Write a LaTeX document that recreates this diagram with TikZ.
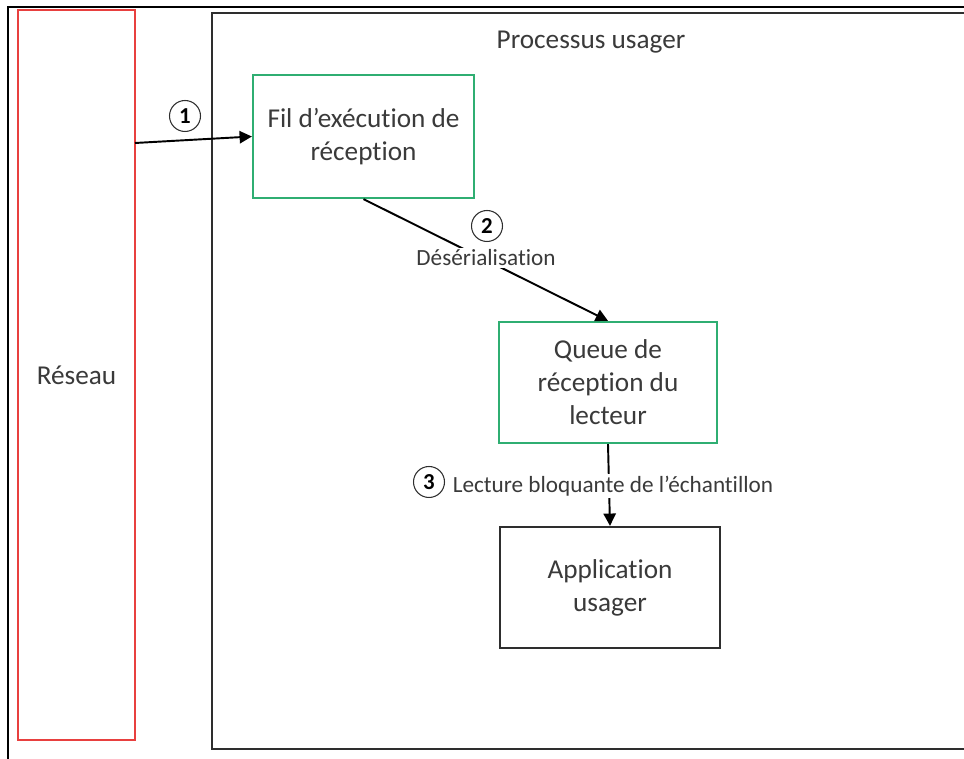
\documentclass[tikz,border=0pt]{standalone}
\usepackage{fontspec}
\setmainfont{Carlito}[Ligatures=NoCommon]
\usepackage{tikz}
\usetikzlibrary{arrows.meta}
\definecolor{vert}{HTML}{2FAE72}
\definecolor{rouge}{HTML}{E8403F}
\definecolor{trait}{HTML}{2E2E2E}
\definecolor{texte}{HTML}{3A3A3A}
\tikzset{
  boite/.style={draw=trait, line width=1.3pt, text=texte, align=center,
    font=\fontsize{15.5}{18.8}\selectfont, minimum width=4.4cm, minimum height=2.42cm},
  boiteVerte/.style={boite, draw=vert},
  reseau/.style={boite, draw=rouge, minimum width=2.34cm, minimum height=14.6cm},
  etiq/.style={text=texte, font=\fontsize{13.2}{15}\selectfont, fill=white, inner sep=1pt},
  num/.style={circle, draw=trait, line width=0.6pt, fill=white, text=black,
    font=\bfseries\fontsize{13}{13}\selectfont, minimum size=0.62cm, inner sep=0pt},
  fleche/.style={draw=black, line width=1.1pt, -{Triangle[length=7pt,width=7pt]}}
}
\begin{document}
\begin{tikzpicture}[x=0.02cm, y=-0.02cm]
\clip (0,0) rectangle (964,759);
\fill[white] (0,0) rectangle (964,759);
% cadre exterieur
\draw[black, line width=1.2pt] (8,780) -- (8,7) -- (980,7);
% processus usager
\draw[trait, line width=1.5pt] (212,749) rectangle (990,13);
\node[text=texte, font=\fontsize{15.5}{18}\selectfont] (titre) at (591,42) {Processus usager};

\node[reseau] (res) at (76.5,375) {Réseau};
\node[boiteVerte, minimum width=4.42cm, minimum height=2.46cm] (fil) at (363.5,136.5) {Fil d'exécution de\\réception};
\node[boiteVerte, minimum width=4.36cm] (queue) at (608,382.5) {Queue de\\réception du\\lecteur};
\node[boite] (appli) at (610,587.5) {Application\\usager};

% fleche 1
\coordinate (r1) at (135,143);
\draw[fleche] (r1) -- (fil.west);
\node[num] (n1) at (185,116) {1};

% fleche 2
\draw[fleche] (fil.south) -- (queue.north);
\node[etiq] (deser) at (486,258) {Désérialisation};
\node[num] (n2) at (487,226) {2};

% fleche 3
\draw[fleche] (queue.south) -- (appli.north);
\node[etiq] (lect) at (613,486) {Lecture bloquante de l'échantillon};
\node[num] (n3) at (429,482) {3};
\end{tikzpicture}
\end{document}
